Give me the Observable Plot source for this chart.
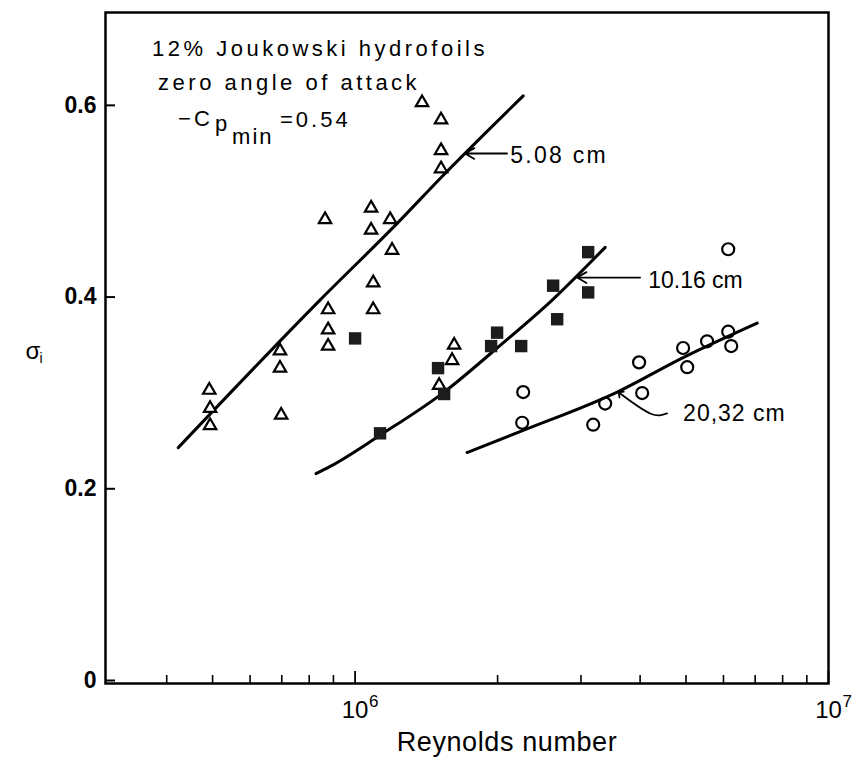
<!DOCTYPE html>
<html>
<head>
<meta charset="utf-8">
<script src="https://cdn.jsdelivr.net/npm/d3@7"></script>
<script src="https://cdn.jsdelivr.net/npm/@observablehq/plot@0.6"></script>
<style>
  html, body { margin: 0; padding: 0; background: #fff; }
  svg { display: block; }
</style>
</head>
<body>
<div id="chart"></div>
<script>
// ---------- data ----------
// 5.08 cm chord (open triangles)
const triRe    = [4.92e5, 4.94e5, 4.94e5, 6.94e5, 6.94e5, 6.98e5, 8.64e5, 8.77e5, 8.77e5, 8.77e5,
                  1.081e6, 1.081e6, 1.092e6, 1.092e6, 1.186e6, 1.197e6, 1.385e6, 1.519e6, 1.519e6, 1.519e6,
                  1.505e6, 1.603e6, 1.619e6];
const triSigma = [0.306, 0.287, 0.269, 0.347, 0.329, 0.280, 0.484, 0.390, 0.369, 0.352,
                  0.496, 0.473, 0.418, 0.390, 0.484, 0.452, 0.606, 0.588, 0.556, 0.537,
                  0.311, 0.337, 0.353];
// 10.16 cm chord (filled squares)
const sqRe    = [1.0e6, 1.129e6, 1.497e6, 1.542e6, 1.938e6, 1.995e6, 2.243e6, 2.672e6, 2.62e6, 3.107e6, 3.107e6];
const sqSigma = [0.360, 0.261, 0.329, 0.302, 0.352, 0.366, 0.352, 0.380, 0.415, 0.408, 0.450];
// 20.32 cm chord (open circles)
const circRe    = [2.265e6, 2.254e6, 3.184e6, 3.375e6, 3.98e6, 4.04e6, 4.93e6, 5.03e6, 5.54e6, 6.14e6, 6.23e6, 6.14e6];
const circSigma = [0.304, 0.272, 0.270, 0.292, 0.335, 0.303, 0.350, 0.330, 0.357, 0.367, 0.352, 0.453];
// faired curves
const fit508Re     = [4.23e5, 8.43e5, 1.227e6, 1.534e6, 2.265e6];
const fit508Sigma  = [0.246, 0.400, 0.480, 0.530, 0.613];
const fit1016Re    = [8.27e5, 8.86e5, 1.129e6, 1.542e6, 1.995e6, 2.608e6, 3.375e6];
const fit1016Sigma = [0.219, 0.2265, 0.259, 0.304, 0.350, 0.400, 0.455];
const fit2032Re    = [1.724e6, 2.265e6, 3.578e6, 4.93e6, 7.07e6];
const fit2032Sigma = [0.241, 0.264, 0.304, 0.340, 0.376];
// curve labels
const seriesLabels = ["5.08 cm", "10.16 cm", "20,32 cm"];
// ticks
const yTicks = [0, 0.2, 0.4, 0.6];
const xMajor = [1e6, 1e7];
const xMajorBase = ["10", "10"];
const xMajorExp = ["6", "7"];
const xMinor = [4e5, 5e5, 6e5, 7e5, 8e5, 9e5, 2e6, 3e6, 4e6, 5e6, 6e6, 7e6, 8e6, 9e6];
const xTitle = "Reynolds number";
const yTitle = "\u03c3";
const yTitleSub = "i";
const noteLines = ["12% Joukowski hydrofoils", "zero angle of attack"];
const notePieces = ["\u2212C", "p", "min", "=0.54"];

// ---------- tables ----------
const tri = triRe.map((x, i) => ({x, y: triSigma[i]}));
const sq = sqRe.map((x, i) => ({x, y: sqSigma[i]}));
const circ = circRe.map((x, i) => ({x, y: circSigma[i]}));
const f508 = fit508Re.map((x, i) => ({x, y: fit508Sigma[i]}));
const f1016 = fit1016Re.map((x, i) => ({x, y: fit1016Sigma[i]}));
const f2032 = fit2032Re.map((x, i) => ({x, y: fit2032Sigma[i]}));
const arrow2032 = [{x: 4.56e6, y: 0.2817}, {x: 4.2e6, y: 0.2817}, {x: 3.63e6, y: 0.3025}];

const font = "'Liberation Sans', Arial, Helvetica, sans-serif";
const lbl = {textAnchor: "start", fontSize: 23};
const note = {textAnchor: "start", fontSize: 22};

const chart = Plot.plot({
  width: 852,
  height: 769,
  marginLeft: 105,
  marginRight: 24,
  marginTop: 12,
  marginBottom: 86,
  style: {fontFamily: font, background: "#fff", color: "#000"},
  x: {type: "log", domain: [2.97e5, 1e7], label: null},
  y: {domain: [0, 0.7], label: null},
  marks: [
    Plot.frame({stroke: "#000", strokeWidth: 2.5}),
    Plot.axisY(yTicks, {tickSize: -10, tickPadding: 19, strokeWidth: 2, label: null,
      tickFormat: d => d === 0 ? "0" : d.toFixed(1), fontSize: 23, fontWeight: "bold", dy: -3}),
    Plot.axisX(xMinor, {tickSize: -8, strokeWidth: 1.6, label: null, tickFormat: () => ""}),
    Plot.axisX(xMajor, {tickSize: -12, strokeWidth: 1.8, label: null, tickFormat: () => ""}),
    // x tick labels 10^n
    Plot.text(xMajor, {x: d => d, text: (d, i) => xMajorBase[i], frameAnchor: "bottom", dy: 34, fontSize: 24}),
    Plot.text(xMajor, {x: d => d, text: (d, i) => xMajorExp[i], frameAnchor: "bottom", dy: 23, dx: 14,
      textAnchor: "start", fontSize: 17}),
    // axis titles
    Plot.text([xTitle], {text: d => d, frameAnchor: "bottom", dx: 40, dy: 67, fontSize: 27}),
    Plot.text([yTitle], {text: d => d, frameAnchor: "left", dx: -80, dy: 3, fontSize: 24}),
    Plot.text([yTitleSub], {text: d => d, frameAnchor: "left", dx: -66, dy: 11, fontSize: 14, textAnchor: "start"}),
    // faired curves
    Plot.line(f508, {x: "x", y: "y", stroke: "#000", strokeWidth: 3, curve: "monotone-x"}),
    Plot.line(f1016, {x: "x", y: "y", stroke: "#000", strokeWidth: 3, curve: "monotone-x"}),
    Plot.line(f2032, {x: "x", y: "y", stroke: "#000", strokeWidth: 3, curve: "monotone-x"}),
    // data points
    Plot.dot(tri, {x: "x", y: "y", symbol: "triangle", r: 4.6, fill: "#fff", stroke: "#000", strokeWidth: 2.2}),
    Plot.dot(circ, {x: "x", y: "y", symbol: "circle", r: 6, fill: "none", stroke: "#000", strokeWidth: 2.2}),
    Plot.dot(sq, {x: "x", y: "y", symbol: "square", r: 7, fill: "#1c1c1c", stroke: "none"}),
    // leader arrows
    Plot.arrow([0], {x1: 2.094e6, y1: 0.5529, x2: 1.707e6, y2: 0.5529, stroke: "#000", strokeWidth: 1.8, headLength: 9}),
    Plot.arrow([0], {x1: 4.0e6, y1: 0.4235, x2: 2.944e6, y2: 0.4235, stroke: "#000", strokeWidth: 1.8, headLength: 9}),
    Plot.line(arrow2032, {x: "x", y: "y", stroke: "#000", strokeWidth: 1.8, curve: "natural", markerEnd: "arrow"}),
    // curve labels
    Plot.text([seriesLabels[0]], {text: d => d, x: 2.126e6, y: 0.5508, ...lbl}),
    Plot.text([seriesLabels[1]], {text: d => d, x: 4.16e6, y: 0.4204, ...lbl}),
    Plot.text([seriesLabels[2]], {text: d => d, x: 4.93e6, y: 0.2817, ...lbl}),
    // note block
    Plot.text([noteLines[0]], {text: d => d, x: 3.725e5, y: 0.6618, ...note}),
    Plot.text([noteLines[1]], {text: d => d, x: 3.836e5, y: 0.6263, ...note}),
    Plot.text([notePieces[0]], {text: d => d, x: 4.227e5, y: 0.5888, ...note}),
    Plot.text([notePieces[1]], {text: d => d, x: 5.06e5, y: 0.5836, ...note}),
    Plot.text([notePieces[2]], {text: d => d, x: 5.497e5, y: 0.570, ...note}),
    Plot.text([notePieces[3]], {text: d => d, x: 6.94e5, y: 0.5877, ...note})
  ]
});

// letter spacing of the hand-lettered texts
const spacing = new Map([
  [noteLines[0], 3.5], [noteLines[1], 3.5],
  [notePieces[0], 3], [notePieces[1], 3], [notePieces[2], 2], [notePieces[3], 3],
  [seriesLabels[0], 2.3], [seriesLabels[1], 0], [seriesLabels[2], 1],
  [xTitle, 0.6]
]);
chart.querySelectorAll("text").forEach(t => {
  const s = t.textContent;
  if (spacing.has(s)) t.style.letterSpacing = spacing.get(s) + "px";
});
document.getElementById("chart").appendChild(chart);
</script>
</body>
</html>
